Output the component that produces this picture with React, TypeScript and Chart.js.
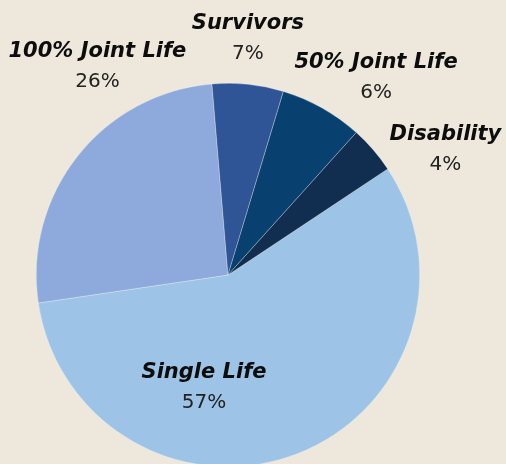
import React, { useEffect, useRef } from "react";
import { Chart, registerables } from "chart.js";

Chart.register(...registerables);

// Slices in clockwise order, starting from the Disability / Single Life boundary
const categories = ["Single Life", "100% Joint Life", "Survivors", "50% Joint Life", "Disability"];
const sliceValues = [57, 26, 6, 7, 4];
const percentLabels = ["57%", "26%", "7%", "6%", "4%"];
const sliceColors = ["#9DC3E6", "#8EA9DB", "#2F5597", "#08416F", "#112E51"];

// label anchor, as fractions of the pie radius from the pie centre
const labelAnchors: [number, number][] = [
  [-0.125, 0.615],
  [-0.681, -1.059],
  [0.104, -1.207],
  [0.772, -0.999],
  [1.134, -0.626],
];

const labelPlugin = {
  id: "sliceLabels",
  afterDatasetsDraw(chart: any) {
    const meta = chart.getDatasetMeta(0);
    const ctx = chart.ctx;
    ctx.save();
    ctx.textAlign = "center";
    ctx.textBaseline = "alphabetic";
    meta.data.forEach((arc: any, i: number) => {
      const r = arc.outerRadius;
      const ax = arc.x + labelAnchors[i][0] * r;
      const ay = arc.y + labelAnchors[i][1] * r;
      ctx.fillStyle = "#0d0d0d";
      ctx.font = "italic bold 21px 'DejaVu Sans'";
      ctx.fillText(categories[i], ax, ay - 15);
      ctx.fillStyle = "#222222";
      ctx.font = "20px 'DejaVu Sans'";
      ctx.fillText(percentLabels[i], ax, ay + 15);
    });
    ctx.restore();
  },
};

export default function App() {
  const ref = useRef<HTMLCanvasElement>(null);
  useEffect(() => {
    if (!ref.current) return;
    const chart = new Chart(ref.current, {
      type: "pie",
      data: {
        labels: categories,
        datasets: [
          {
            data: sliceValues,
            backgroundColor: sliceColors,
            borderColor: "rgba(255,255,255,0.55)",
            borderWidth: 0.5,
            offset: 0,
            hoverOffset: 0,
          },
        ],
      },
      options: {
        animation: false,
        responsive: false,
        rotation: 56.4,
        layout: { padding: { left: 36, right: 86, top: 83, bottom: 93 } },
        plugins: {
          legend: { display: false },
          tooltip: { enabled: false },
        },
        events: [],
      },
      plugins: [labelPlugin],
    });
    return () => chart.destroy();
  }, []);
  return (
    <div
      style={{
        position: "fixed",
        left: 0,
        top: 0,
        width: 506,
        height: 464,
        overflow: "hidden",
        background: "#EEE8DC",
      }}
    >
      <canvas ref={ref} width={506} height={560} style={{ width: 506, height: 560, display: "block" }} />
    </div>
  );
}
